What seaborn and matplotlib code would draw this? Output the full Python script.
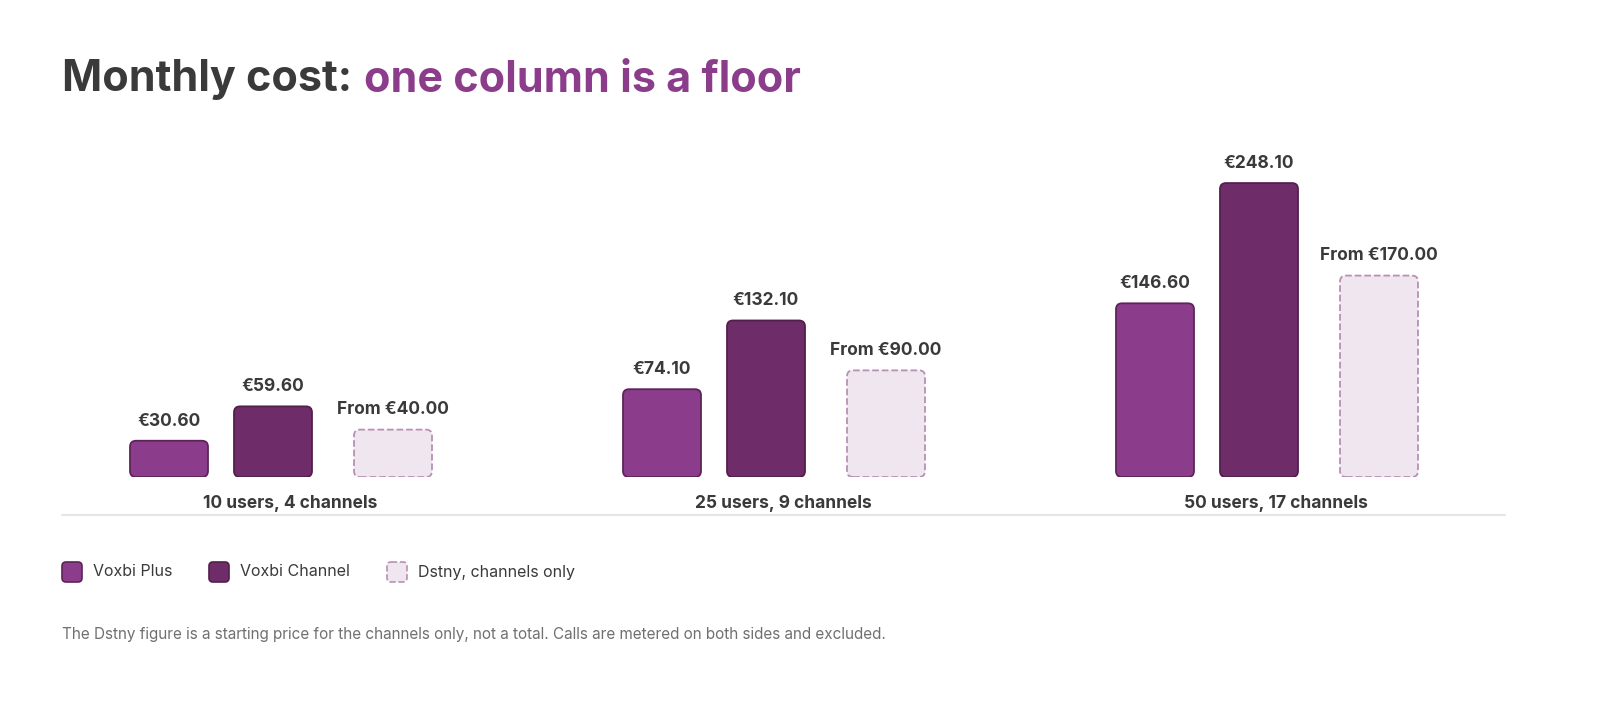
import matplotlib
matplotlib.use("Agg")
import matplotlib.pyplot as plt
import seaborn as sns
import pandas as pd
from matplotlib.patches import FancyBboxPatch
from matplotlib.lines import Line2D
from matplotlib.transforms import Affine2D

categories = ["10 users, 4 channels", "25 users, 9 channels", "50 users, 17 channels"]
series = ["Voxbi Plus", "Voxbi Channel", "Dstny, channels only"]
voxbi_plus = [30.60, 74.10, 146.60]
voxbi_channel = [59.60, 132.10, 248.10]
dstny = [40.00, 90.00, 170.00]
label_prefix = ["", "", "From "]

fills = ["#8B3C8A", "#6E2C68", "#F0E6F0"]
edges = ["#5E2459", "#521F4D", "#B890B6"]
styles = ["-", "-", "--"]

sns.set_theme(style="white")
plt.rcParams['font.family'] = ['Inter', 'DejaVu Sans']

df = pd.DataFrame({
    "cat": categories * 3,
    "series": [s for s in series for _ in categories],
    "value": voxbi_plus + voxbi_channel + dstny,
})

W, H = 1600, 713
fig = plt.figure(figsize=(16, 7.13), dpi=100)
ax_l, ax_r, ax_b, ax_t = 62, 1505, 477, 150
ax = fig.add_axes([ax_l / W, (H - ax_b) / H, (ax_r - ax_l) / W, (ax_b - ax_t) / H])

sns.barplot(data=df, x="cat", y="value", hue="series", order=categories,
            hue_order=series, ax=ax, legend=False, dodge=True)

px_per_x = 493.0
ymax = 276.0
px_per_y = (ax_b - ax_t) / ymax
ax.set_xlim((ax_l - 281) / px_per_x, (ax_r - 281) / px_per_x)
ax.set_ylim(0, ymax)

offsets_px = [-112, -8, 112]
bw = 78 / px_per_x
vals = [voxbi_plus, voxbi_channel, dstny]
for p in list(ax.patches):
    p.remove()
aspect = (1 / px_per_y) / (1 / px_per_x)
for si in range(3):
    for ci in range(3):
        xc = ci + offsets_px[si] / px_per_x
        v = vals[si][ci]
        r = 6 / px_per_x
        box = FancyBboxPatch((xc - bw / 2 + r, r * aspect), bw - 2 * r, v - 2 * r * aspect,
                             boxstyle=f"round,pad={r},rounding_size={r}",
                             mutation_aspect=aspect,
                             facecolor=fills[si], edgecolor=edges[si],
                             linewidth=1.3, linestyle=styles[si], zorder=3)
        ax.add_patch(box)
        ax.annotate(f"{label_prefix[si]}€{v:.2f}", (xc, v), xytext=(0, 8),
                    textcoords="offset points", ha="center", va="bottom",
                    fontsize=12.5, fontweight="bold", color="#3A3A3A")

ax.set_axis_off()

for ci, c in enumerate(categories):
    fig.text((281 + 9 + 493 * ci) / W, 1 - 503 / H, c, ha="center", va="center",
             fontsize=12.5, fontweight="bold", color="#3A3A3A")
fig.add_artist(Line2D([ax_l / W, ax_r / W], [1 - 515 / H] * 2, color="#E6E6E6", lw=1.5))

t1 = fig.text(62 / W, 1 - 80 / H, "Monthly cost:", fontsize=31, fontweight="bold",
              color="#3A3A3A", va="center", ha="left")
fig.canvas.draw()
bb = t1.get_window_extent(renderer=fig.canvas.get_renderer())
fig.text((bb.x1 + 12) / W, 1 - 80 / H, "one column is a floor", fontsize=31, fontweight="bold",
         color="#8B3C8A", va="center", ha="left")

leg_x = [62, 209, 387]
for si in range(3):
    sw = FancyBboxPatch((leg_x[si] + 3, 565), 14, 14, boxstyle="round,pad=3,rounding_size=4",
                        facecolor=fills[si], edgecolor=edges[si], linewidth=1.2,
                        linestyle=styles[si])
    sw.set_transform(Affine2D().scale(1, -1).translate(0, H))
    fig.add_artist(sw)
    fig.text((leg_x[si] + 31) / W, 1 - 572 / H, series[si], fontsize=11.5,
             color="#3A3A3A", va="center", ha="left")

fig.text(62 / W, 1 - 634 / H,
         "The Dstny figure is a starting price for the channels only, not a total. Calls are metered on both sides and excluded.",
         fontsize=11, color="#707070", va="center", ha="left")

fig.savefig("out.png", dpi=100, facecolor="white")
